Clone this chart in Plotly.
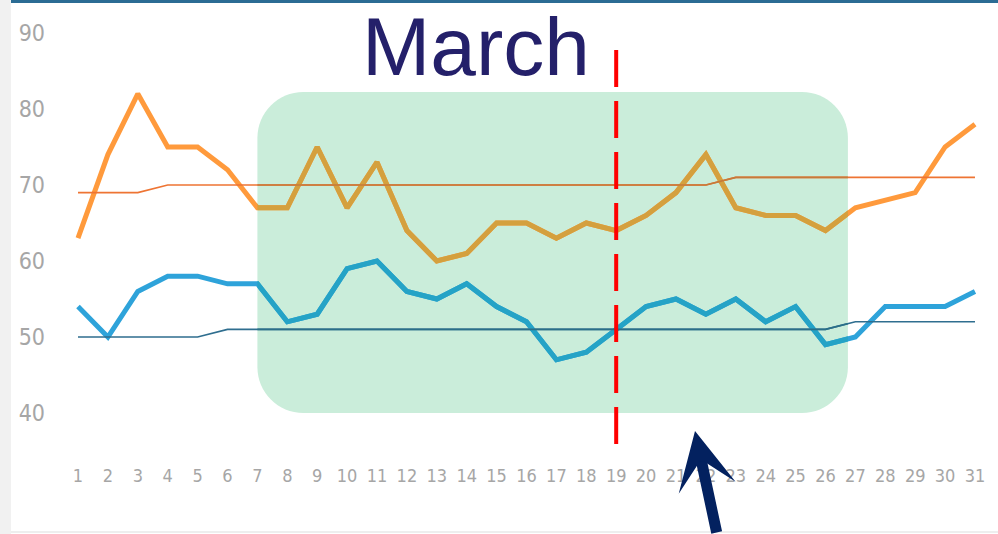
import plotly.graph_objects as go

# ---------------- data ----------------
days = list(range(1, 32))
day_labels = [str(d) for d in days]
series_a = [63, 74, 82, 75, 75, 72, 67, 67, 75, 67, 73, 64, 60, 61, 65, 65,
            63, 65, 64, 66, 69, 74, 67, 66, 66, 64, 67, 68, 69, 75, 78]
series_a_median = [69, 69, 69, 70, 70, 70, 70, 70, 70, 70, 70, 70, 70, 70, 70, 70,
                   70, 70, 70, 70, 70, 70, 71, 71, 71, 71, 71, 71, 71, 71, 71]
series_b = [54, 50, 56, 58, 58, 57, 57, 52, 53, 59, 60, 56, 55, 57, 54, 52,
            47, 48, 51, 54, 55, 53, 55, 52, 54, 49, 50, 54, 54, 54, 56]
series_b_median = [50, 50, 50, 50, 50, 51, 51, 51, 51, 51, 51, 51, 51, 51, 51, 51,
                   51, 51, 51, 51, 51, 51, 51, 51, 51, 51, 52, 52, 52, 52, 52]
y_ticks = [40, 50, 60, 70, 80, 90]
marker_day = 19
title_text = "March"

# ---------------- layout constants ----------------
W, H = 998, 534
ML, MR, MT, MB = 50, 0, 0, 76
PW, PH = W - ML - MR, H - MT - MB
X_RANGE = [0.0635, 31.77]
Y_RANGE = [34.08, 94.34]
# highlight box (data units)
BOX_X = [7.0, 26.75]
BOX_Y = [40.0, 82.24]
R_PX = 46

xspan = X_RANGE[1] - X_RANGE[0]
yspan = Y_RANGE[1] - Y_RANGE[0]
px_per_x = PW / xspan
px_per_y = PH / yspan


def px2paper_x(px):
    return (px - ML) / PW


def px2paper_y(py):
    return 1 - (py - MT) / PH


# rounded rectangle path
rx = R_PX / px_per_x
ry = R_PX / px_per_y
k = 0.5523
x0, x1 = BOX_X
y0, y1 = BOX_Y
path = (
    f"M{x0 + rx},{y1} L{x1 - rx},{y1} "
    f"C{x1 - rx + k * rx},{y1} {x1},{y1 - ry + k * ry} {x1},{y1 - ry} "
    f"L{x1},{y0 + ry} "
    f"C{x1},{y0 + ry - k * ry} {x1 - rx + k * rx},{y0} {x1 - rx},{y0} "
    f"L{x0 + rx},{y0} "
    f"C{x0 + rx - k * rx},{y0} {x0},{y0 + ry - k * ry} {x0},{y0 + ry} "
    f"L{x0},{y1 - ry} "
    f"C{x0},{y1 - ry + k * ry} {x0 + rx - k * rx},{y1} {x0 + rx},{y1} Z"
)

fig = go.Figure()

# main lines (outside colours)
fig.add_trace(go.Scatter(x=days, y=series_a, mode="lines",
                         line=dict(color="#FF9A3C", width=5), hoverinfo="skip"))
fig.add_trace(go.Scatter(x=days, y=series_b, mode="lines",
                         line=dict(color="#2EA3DA", width=5), hoverinfo="skip"))
fig.add_trace(go.Scatter(x=days, y=series_a_median, mode="lines",
                         line=dict(color="#EE7433", width=1.6), hoverinfo="skip"))
fig.add_trace(go.Scatter(x=days, y=series_b_median, mode="lines",
                         line=dict(color="#2F6E8F", width=1.6), hoverinfo="skip"))

# same lines, clipped to the highlight box, in the tinted colours
fig.add_trace(go.Scatter(x=days, y=series_a, mode="lines", xaxis="x2", yaxis="y2",
                         line=dict(color="#D4A03E", width=5), hoverinfo="skip"))
fig.add_trace(go.Scatter(x=days, y=series_b, mode="lines", xaxis="x2", yaxis="y2",
                         line=dict(color="#25A3C6", width=5), hoverinfo="skip"))
fig.add_trace(go.Scatter(x=days, y=series_a_median, mode="lines", xaxis="x2", yaxis="y2",
                         line=dict(color="#C67A3A", width=1.6), hoverinfo="skip"))
fig.add_trace(go.Scatter(x=days, y=series_b_median, mode="lines", xaxis="x2", yaxis="y2",
                         line=dict(color="#2A6F88", width=1.6), hoverinfo="skip"))

d0 = (BOX_X[0] - X_RANGE[0]) / xspan
d1 = (BOX_X[1] - X_RANGE[0]) / xspan

tick_font = dict(family="Liberation Sans Narrow, DejaVu Sans Condensed, sans-serif",
                 color="#A6A6A6")

fig.update_layout(
    width=W, height=H,
    margin=dict(l=ML, r=MR, t=MT, b=MB),
    paper_bgcolor="white",
    plot_bgcolor="rgba(0,0,0,0)",
    showlegend=False,
    xaxis=dict(range=X_RANGE, tickvals=days, ticktext=day_labels,
               showgrid=False, zeroline=False, showline=False, ticks="",
               tickfont=dict(size=18, **tick_font), ticklabelstandoff=5,
               fixedrange=True),
    yaxis=dict(range=Y_RANGE, tickvals=y_ticks, showgrid=False, zeroline=False,
               showline=False, ticks="", tickfont=dict(size=23, **tick_font),
               ticklabelstandoff=4, fixedrange=True),
    xaxis2=dict(domain=[d0, d1], range=BOX_X, visible=False, anchor="y2",
                fixedrange=True),
    yaxis2=dict(domain=[0, 1], range=Y_RANGE, visible=False, anchor="x2",
                fixedrange=True),
)

shapes = [
    # highlight box
    dict(type="path", path=path, xref="x", yref="y", layer="below",
         fillcolor="#CAEDDA", line=dict(width=0)),
    # vertical dashed marker
    dict(type="line", xref="x", yref="y", x0=marker_day, x1=marker_day,
         y0=Y_RANGE[1] - (50 - MT) / px_per_y, y1=Y_RANGE[1] - (446 - MT) / px_per_y,
         line=dict(color="#FF0000", width=4, dash="37px,14px"), layer="above"),
    # slide decorations
    dict(type="rect", xref="paper", yref="paper",
         x0=px2paper_x(0), x1=px2paper_x(11), y0=px2paper_y(H), y1=px2paper_y(0),
         fillcolor="#F1F1F1", line=dict(width=0), layer="below"),
    dict(type="rect", xref="paper", yref="paper",
         x0=px2paper_x(11), x1=px2paper_x(W), y0=px2paper_y(3), y1=px2paper_y(-2),
         fillcolor="#2B6C94", line=dict(width=0), layer="above"),
    dict(type="rect", xref="paper", yref="paper",
         x0=px2paper_x(11), x1=px2paper_x(W), y0=px2paper_y(533), y1=px2paper_y(531),
         fillcolor="#EEEEEE", line=dict(width=0), layer="below"),
]
fig.update_layout(shapes=shapes)

# title text
fig.add_annotation(text=title_text, xref="paper", yref="paper",
                   x=px2paper_x(476), y=px2paper_y(46), xanchor="center", yanchor="middle",
                   showarrow=False,
                   font=dict(family="Liberation Sans, Arial, sans-serif", size=82,
                             color="#24206A"))

# arrow
tip_x = X_RANGE[0] + (695 - ML) / px_per_x
tip_y = Y_RANGE[1] - (431 - MT) / px_per_y
fig.add_annotation(x=tip_x, y=tip_y, xref="x", yref="y", text="",
                   showarrow=True, arrowhead=3, arrowsize=0.88, arrowwidth=11,
                   arrowcolor="#03215F", ax=22, ay=140, axref="pixel", ayref="pixel")

fig.write_html("out.html",
               config={"displayModeBar": False},
               post_script="document.body.style.margin='0';document.body.style.overflow='hidden';")
